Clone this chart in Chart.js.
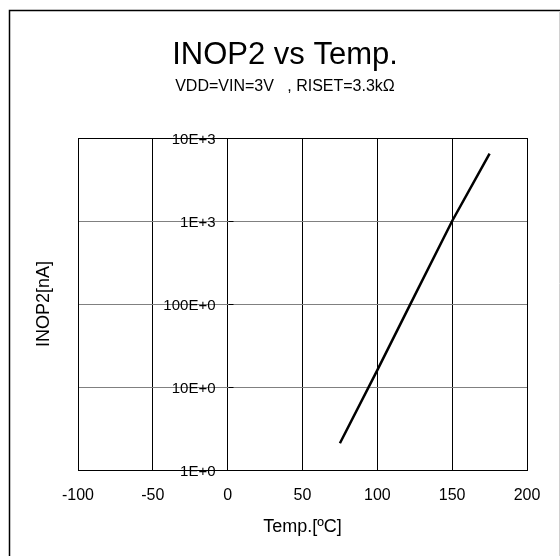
<!DOCTYPE html>
<html><head><meta charset="utf-8">
<script src="https://cdn.jsdelivr.net/npm/chart.js@4"></script>
<style>html,body{margin:0;padding:0;background:#fff}</style>
</head><body>
<canvas id="c" width="560" height="556" style="display:block;width:560px;height:556px"></canvas>
<script>
const temps = [75, 100, 125, 150, 175];
const inop2 = [2.1, 16, 127, 1000, 6500];
const xTicks = [-100, -50, 0, 50, 100, 150, 200];
const yTicks = [1, 10, 100, 1000, 10000];
const yTickLabels = ['1E+0', '10E+0', '100E+0', '1E+3', '10E+3'];
const titleText = 'INOP2 vs Temp.';
const subtitleText = 'VDD=VIN=3V   , RISET=3.3k\u03A9';
const xTitle = 'Temp.[\u00BAC]';
const yTitle = 'INOP2[nA]';

const FONT = "'Liberation Sans', Arial, sans-serif";

const overlay = {
  id: 'overlay',
  beforeDatasetsDraw(chart) {
    const ctx = chart.ctx;
    const xs = chart.scales.x, ys = chart.scales.y;
    const x0 = Math.round(xs.getPixelForValue(0)) + 0.5;
    ctx.save();
    ctx.strokeStyle = '#000';
    ctx.lineWidth = 1;
    ctx.fillStyle = '#000';
    ctx.font = '15px ' + FONT;
    ctx.textAlign = 'right';
    ctx.textBaseline = 'middle';
    yTicks.forEach((v, i) => {
      const py = Math.round(ys.getPixelForValue(v)) + 0.5;
      ctx.beginPath();
      ctx.moveTo(x0, py); ctx.lineTo(x0 + 5, py);
      ctx.stroke();
      ctx.fillText(yTickLabels[i], x0 - 13, py + 1);
    });
    ctx.restore();
  },
  afterDraw(chart) {
    const ctx = chart.ctx;
    ctx.save();
    // chart title and subtitle
    ctx.fillStyle = '#000';
    ctx.textAlign = 'center';
    ctx.textBaseline = 'alphabetic';
    ctx.font = '31px ' + FONT;
    ctx.fillText(titleText, 285, 64);
    ctx.font = '16px ' + FONT;
    ctx.fillText(subtitleText, 285, 91);
    // outer frame
    ctx.lineWidth = 1.5;
    ctx.strokeStyle = '#000';
    ctx.beginPath();
    ctx.moveTo(9.5, 556); ctx.lineTo(9.5, 10.5); ctx.lineTo(560, 10.5);
    ctx.stroke();
    ctx.strokeStyle = '#d0d0d0';
    ctx.lineWidth = 1;
    ctx.beginPath();
    ctx.moveTo(559.5, 11); ctx.lineTo(559.5, 556);
    ctx.stroke();
    ctx.restore();
  }
};

new Chart(document.getElementById('c'), {
  type: 'line',
  data: {
    datasets: [{
      data: temps.map((t, i) => ({x: t, y: inop2[i]})),
      borderColor: '#000',
      borderWidth: 2.5,
      pointRadius: 0,
      tension: 0,
      fill: false
    }]
  },
  options: {
    responsive: false,
    animation: false,
    devicePixelRatio: 1,
    layout: {padding: {left: 9, right: 33, top: 138, bottom: 10}},
    plugins: {
      legend: {display: false},
      tooltip: {enabled: false},
      title: {display: false},
      subtitle: {display: false}
    },
    scales: {
      x: {
        type: 'linear', min: -100, max: 200,
        afterBuildTicks: s => { s.ticks = xTicks.map(v => ({value: v})); },
        afterFit: s => { s.height = 76; },
        ticks: {color: '#000', font: {family: FONT, size: 16}, padding: 16, maxRotation: 0},
        grid: {color: '#000', lineWidth: 1, drawTicks: false},
        border: {display: true, color: '#000', width: 1},
        title: {display: true, text: xTitle, color: '#000',
          font: {family: FONT, size: 18}, padding: {top: 0, bottom: 8}}
      },
      y: {
        type: 'logarithmic', min: 1, max: 10000,
        afterBuildTicks: s => { s.ticks = yTicks.map(v => ({value: v})); },
        afterFit: s => { s.width = 69; },
        ticks: {display: false},
        grid: {color: ctx => (ctx.tick && ctx.tick.value === 10000) ? '#000' : '#808080', lineWidth: 1, drawTicks: false},
        border: {display: true, color: '#000', width: 1},
        title: {display: true, text: yTitle, color: '#000',
          font: {family: FONT, size: 18}, padding: {top: 24, bottom: 0}}
      }
    }
  },
  plugins: [overlay]
});
</script>
</body></html>
